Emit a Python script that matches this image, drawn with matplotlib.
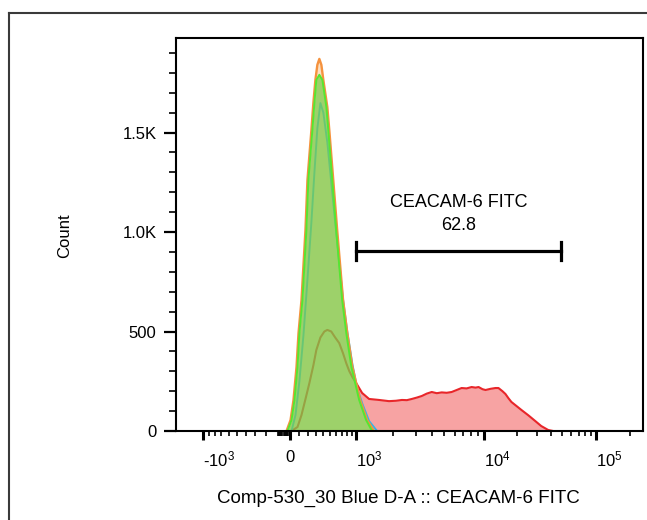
import numpy as np
import matplotlib
matplotlib.use("Agg")
import matplotlib.pyplot as plt
from matplotlib.lines import Line2D
from matplotlib.ticker import FixedLocator, FixedFormatter

plt.rcParams['font.family'] = ['Liberation Sans', 'DejaVu Sans']
plt.rcParams['mathtext.fontset'] = 'custom'
plt.rcParams['mathtext.rm'] = 'Liberation Sans'
plt.rcParams['mathtext.it'] = 'Liberation Sans:italic'
plt.rcParams['mathtext.bf'] = 'Liberation Sans:bold'

# ---------------- data (fluorescence value, count) ----------------
sample_x = [20, 87, 131, 176, 222, 270, 307, 360, 414, 457, 516, 579, 648, 719, 782, 845,
            912, 1000, 1123, 1283, 1546, 1856, 2107, 2347, 2567, 2805, 3068, 3353, 3663,
            4000, 4373, 4775, 5215, 5695, 6220, 6790, 7415, 8100, 8690, 9160, 9830, 10420,
            11540, 12780, 13580, 14740, 15670, 16650, 17700, 19600, 21700, 25030, 28870,
            32600, 37630, 41650]
sample_y = [0, 20, 80, 160, 241, 330, 407, 470, 500, 508, 500, 470, 442, 390, 340, 300,
            271, 241, 191, 161, 156, 150, 152, 156, 155, 161, 168, 176, 188,
            196, 190, 194, 192, 196, 206, 216, 214, 221, 218, 221, 210, 206,
            212, 216, 216, 200, 186, 165, 146, 126, 106, 79, 50,
            25, 5, 0]

blue_x = [22, 65, 108, 153, 199, 246, 283, 320, 360, 400, 457, 516, 579, 648, 719, 802,
          912, 1020, 1123, 1283, 1490]
blue_y = [0, 80, 250, 480, 760, 1050, 1300, 1520, 1648, 1600, 1450, 1250, 1050, 850, 660, 500,
          335, 215, 140, 50, 0]

orange_x = [-25, 11, 43, 76, 98, 131, 176, 199, 246, 270, 295, 320, 346, 373, 400, 457, 486,
            548, 613, 719, 802, 912, 1081, 1236, 1409]
orange_y = [0, 55, 156, 322, 492, 658, 1010, 1261, 1513, 1650, 1764, 1840, 1870, 1840, 1764,
            1628, 1513, 1261, 1010, 658, 492, 322, 156, 55, 0]

green_x = [-17, 22, 54, 87, 108, 142, 187, 210, 258, 283, 307, 346, 387, 443, 471, 532, 596,
           702, 782, 889, 1060, 1212, 1358]
green_y = [0, 55, 156, 322, 492, 658, 1010, 1261, 1513, 1650, 1764, 1790, 1764, 1628, 1513,
           1261, 1010, 658, 492, 322, 156, 55, 0]

gate_range = [1000, 49000]
gate_level = 905
gate_name = "CEACAM-6 FITC"
gate_pct = "62.8"

x_major = [-1000, 0, 1000, 10000, 100000]
x_major_labels = [r"-$\mathregular{10^{3}}$", "0", r"$\mathregular{10^{3}}$",
                  r"$\mathregular{10^{4}}$", r"$\mathregular{10^{5}}$"]
x_minor = ([-900, -800, -700, -600, -500, -400, -300, -200, -100, -90, -80, -70, -60, -50,
            -40, -30, -20, -10] + [100, 200, 300, 400, 500, 600, 700, 800, 900] +
           [2000, 3000, 4000, 5000, 6000, 7000, 8000, 9000] +
           [20000, 30000, 40000, 50000, 60000, 70000, 80000, 90000, 200000])
y_major = [0, 500, 1000, 1500]
y_major_labels = ["0", "500", "1.0K", "1.5K"]
y_minor = [v for v in range(100, 2000, 100) if v % 500 != 0]

# ---------------- biexponential-like display scale ----------------
W = 500.0
KNOT_VALS = np.array([-3000.0, -1000.0, 0.0, 1000.0, 1e4, 1e5, 3e5])
KNOT_POS = np.array([139.8, 203.0, 290.0, 357.0, 485.0, 598.0, 651.9])
T_KNOTS = np.arcsinh(KNOT_VALS / W)


def fwd(x):
    return np.interp(np.arcsinh(np.asarray(x, dtype=float) / W), T_KNOTS, KNOT_POS)


def inv(u):
    return W * np.sinh(np.interp(np.asarray(u, dtype=float), KNOT_POS, T_KNOTS))


# ---------------- figure ----------------
fig = plt.figure(figsize=(6.47, 5.20), dpi=100)
ax = fig.add_axes([176 / 647, (520 - 431) / 520, (643 - 176) / 647, (431 - 38) / 520])
ax.set_xscale('function', functions=(fwd, inv))
ax.set_xlim(-1622, 262144)
ax.set_ylim(0, 1975)

# fills
ax.fill_between(sample_x, sample_y, 0, color='#f7a3a3', lw=0, zorder=1)
ax.fill_between(blue_x, blue_y, 0, color='#b4e2f2', lw=0, zorder=2)
ax.fill_between(orange_x, orange_y, 0, color='#fbe0c2', lw=0, zorder=3)
# outlines beneath the top overlay
ax.plot(sample_x, sample_y, color='#e8262a', lw=1.5, zorder=4)
ax.plot(blue_x, blue_y, color='#33b5e8', lw=1.4, zorder=5)
ax.plot(orange_x, orange_y, color='#f5923e', lw=1.7, zorder=6)
# top overlay (green)
ax.fill_between(green_x, green_y, 0, color='#7ccd4c', alpha=0.74, lw=0, zorder=7)
ax.plot(green_x, green_y, color='#55e632', lw=1.4, zorder=8)

# gate
ax.plot(gate_range, [gate_level, gate_level], color='black', lw=2.3, zorder=9)
for g in gate_range:
    ax.plot([g, g], [gate_level - 45, gate_level + 45], color='black', lw=2.3, zorder=9)
xm = inv((fwd(gate_range[0]) + fwd(gate_range[1])) / 2)
ax.text(xm, 1150, gate_name, ha='center', va='center', fontsize=13, zorder=10)
ax.text(xm, 1033, gate_pct, ha='center', va='center', fontsize=13, zorder=10)

# axes styling
for s in ax.spines.values():
    s.set_linewidth(1.5)
    s.set_color('black')
    s.set_zorder(11)

ax.xaxis.set_major_locator(FixedLocator(x_major))
ax.xaxis.set_major_formatter(FixedFormatter(x_major_labels))
ax.xaxis.set_minor_locator(FixedLocator(x_minor))
ax.yaxis.set_major_locator(FixedLocator(y_major))
ax.yaxis.set_major_formatter(FixedFormatter(y_major_labels))
ax.yaxis.set_minor_locator(FixedLocator(y_minor))

ax.tick_params(axis='x', which='major', direction='out', length=6.5, width=2.2, pad=7,
               labelsize=12)
ax.tick_params(axis='x', which='minor', direction='out', length=3.5, width=1.2)
ax.tick_params(axis='y', which='major', direction='out', length=9, width=1.6, pad=5,
               labelsize=12)
ax.tick_params(axis='y', which='minor', direction='out', length=5, width=1.2)

fig.canvas.draw()
for lab in ax.get_xticklabels():
    if lab.get_text() != "0":
        lab.set_horizontalalignment('left')

ax.set_xlabel("Comp-530_30 Blue D-A :: CEACAM-6 FITC", fontsize=13.5, va='center')
ax.xaxis.set_label_coords((398 - 176) / 467, (431 - 498) / 393)
ax.set_ylabel("Count", fontsize=12, va='center')
ax.yaxis.set_label_coords((65 - 176) / 467, (431 - 236) / 393)

# outer frame
fig.add_artist(Line2D([9 / 647, 9 / 647], [0, 1 - 13 / 520], transform=fig.transFigure,
                      color='#3a3a3a', lw=1.5))
fig.add_artist(Line2D([9 / 647, 1], [1 - 13 / 520, 1 - 13 / 520], transform=fig.transFigure,
                      color='#3a3a3a', lw=1.5))

fig.savefig("out.png", dpi=100)
